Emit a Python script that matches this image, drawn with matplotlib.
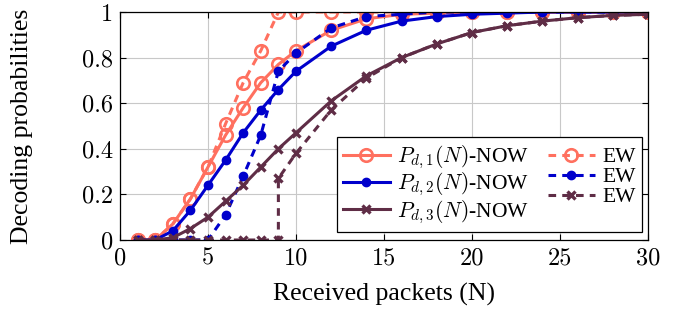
import matplotlib
matplotlib.use("Agg")
import matplotlib.pyplot as plt

plt.rcParams['font.family'] = ['Liberation Serif', 'DejaVu Serif']
plt.rcParams['mathtext.fontset'] = 'cm'

# received packets
n_now = [1, 2, 3, 4, 5, 6, 7, 8, 9, 10, 12, 14, 16, 18, 20, 22, 24, 26, 28, 30]

pd1_now = [0, 0, 0.07, 0.18, 0.32, 0.46, 0.58, 0.69, 0.77, 0.83, 0.92, 0.97, 0.99, 0.995, 1, 1, 1, 1, 1, 1]
pd2_now = [0, 0, 0.04, 0.13, 0.24, 0.35, 0.47, 0.57, 0.66, 0.74, 0.85, 0.92, 0.96, 0.98, 0.99, 0.995, 1, 1, 1, 1]
pd3_now = [0, 0, 0.01, 0.05, 0.10, 0.17, 0.24, 0.32, 0.40, 0.47, 0.61, 0.72, 0.80, 0.86, 0.91, 0.94, 0.96, 0.975, 0.985, 0.99]

n_ew1 = [1, 2, 3, 4, 5, 6, 7, 8, 9, 10, 12, 14, 16, 18, 20, 22, 24, 26, 28, 30]
pd1_ew = [0, 0, 0.07, 0.18, 0.32, 0.51, 0.69, 0.83, 1, 1, 1, 1, 1, 1, 1, 1, 1, 1, 1, 1]

n_ew2 = [1, 2, 3, 4, 5, 6, 7, 8, 9, 10, 12, 14, 16, 18, 20, 22, 24, 26, 28, 30]
pd2_ew = [0, 0, 0, 0, 0, 0.11, 0.28, 0.46, 0.74, 0.82, 0.93, 0.98, 0.99, 1, 1, 1, 1, 1, 1, 1]

n_ew3 = [1, 2, 3, 4, 5, 6, 7, 8, 9, 9, 10, 12, 14, 16, 18, 20, 22, 24, 26, 28, 30]
pd3_ew = [0, 0, 0, 0, 0, 0, 0, 0, 0, 0.27, 0.38, 0.57, 0.71, 0.80, 0.86, 0.91, 0.94, 0.96, 0.975, 0.985, 0.99]

xticks = [0, 5, 10, 15, 20, 25, 30]
yticks = [0, 0.2, 0.4, 0.6, 0.8, 1]
ytick_labels = ['0', '0.2', '0.4', '0.6', '0.8', '1']

c1 = '#FF705F'
c2 = '#0000CC'
c3 = '#5F2D46'

fig = plt.figure(figsize=(6.88, 3.2), dpi=100)
ax = fig.add_axes([0.1744, 0.25, 0.7674, 0.7125])

lw = 2.2
dsh = (2.5, 2)
l1, = ax.plot(n_now, pd1_now, '-', color=c1, lw=lw, marker='o', ms=9, mfc='none', mew=1.9)
l4, = ax.plot(n_ew1, pd1_ew, '--', color=c1, lw=lw, marker='o', ms=9, mfc='none', mew=1.9, dashes=dsh)
l2, = ax.plot(n_now, pd2_now, '-', color=c2, lw=lw, marker='o', ms=6, mew=1)
l5, = ax.plot(n_ew2, pd2_ew, '--', color=c2, lw=lw, marker='o', ms=6, mew=1, dashes=dsh)
l3, = ax.plot(n_now, pd3_now, '-', color=c3, lw=lw, marker='x', ms=6, mew=2.4)
l6, = ax.plot(n_ew3, pd3_ew, '--', color=c3, lw=lw, marker='x', ms=6, mew=2.4, dashes=dsh)

ax.set_xlim(0, 30)
ax.set_ylim(0, 1)
ax.set_xticks(xticks)
ax.set_xticklabels([str(t) for t in xticks], family='cmr10')
ax.set_yticks(yticks)
ax.set_yticklabels(ytick_labels, family='cmr10')
ax.tick_params(labelsize=17.5, direction='in', length=4, top=True, right=True, pad=5)
ax.grid(True, color='#c8c8c8', lw=0.8)
ax.set_axisbelow(True)
for s in ax.spines.values():
    s.set_linewidth(0.9)

ax.set_xlabel('Received packets (N)', fontsize=18.5)
ax.set_ylabel('Decoding probabilities', fontsize=18.5)
ax.xaxis.set_label_coords(0.5, -0.19)
ax.yaxis.set_label_coords(-0.165, 0.5)

leg = ax.legend([l1, l2, l3, l4, l5, l6],
                [r'$P_{d,1}(N)$-NOW', r'$P_{d,2}(N)$-NOW', r'$P_{d,3}(N)$-NOW', 'EW', 'EW', 'EW'],
                ncol=2, loc='lower right', fontsize=15.5, fancybox=False, edgecolor='black',
                framealpha=1, borderpad=0.3, labelspacing=0.0, handlelength=2.15,
                columnspacing=0.9, handletextpad=0.35, borderaxespad=0,
                bbox_to_anchor=(0.9886, 0.035))
leg.get_frame().set_linewidth(0.9)

fig.savefig('out.png', dpi=100)
